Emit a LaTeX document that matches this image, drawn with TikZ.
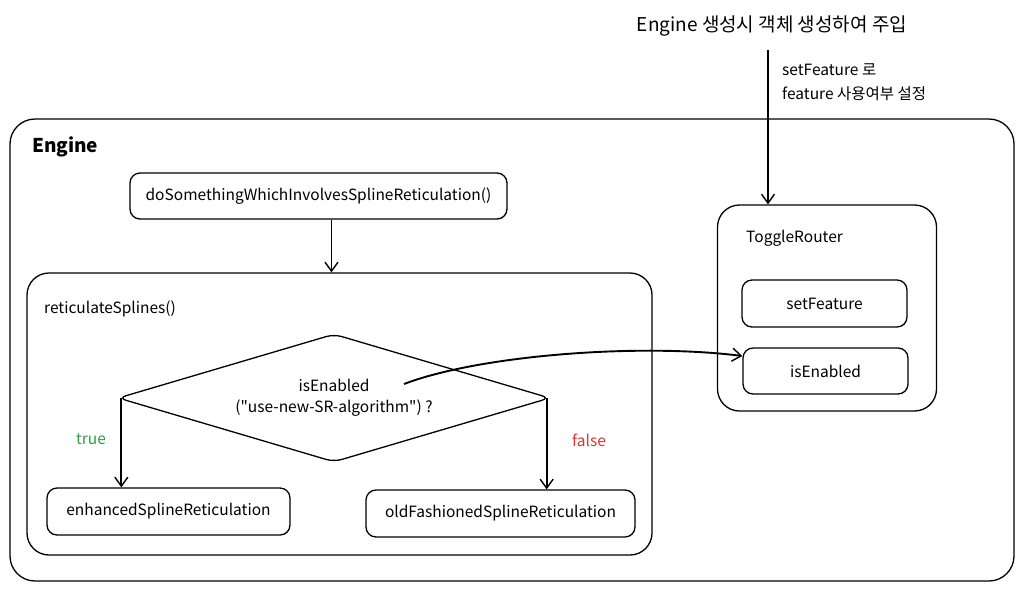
\documentclass[tikz,border=0pt]{standalone}
\usepackage{fontspec}
\setmainfont{Noto Sans CJK KR}[Ligatures=TeXOff]
\usetikzlibrary{arrows.meta,shapes.geometric}
\definecolor{truegreen}{HTML}{2F9E44}
\definecolor{falsered}{HTML}{E03131}
\begin{document}
\begin{tikzpicture}[x=1pt,y=-1pt,
  box/.style={draw, line width=1.3pt, rounded corners=10pt, inner sep=0pt},
  bigbox/.style={box, rounded corners=22pt},
  txt/.style={font=\fontsize{15.5}{21}\selectfont, inner sep=0pt},
  ttl/.style={font=\fontsize{19}{24}\selectfont\bfseries, inner sep=0pt},
  arr/.style={line width=1.9pt, -{Straight Barb[length=9pt,width=13pt,line width=1.4pt]}}]
\useasboundingbox (0,0) rectangle (1024,590);

% containers
\node[bigbox, rounded corners=25pt, minimum width=1004pt, minimum height=462pt] (engine) at (512,350) {};
\node[ttl, anchor=west] (enginelbl) at (32,147) {Engine};

\node[box, minimum width=377pt, minimum height=46pt, txt] (do) at (318.5,196) {doSomethingWhichInvolvesSplineReticulation()};

\node[bigbox, minimum width=625pt, minimum height=282pt] (retic) at (339.5,414) {};
\node[txt, anchor=west] (reticlbl) at (44,309) {reticulateSplines()};

\node[draw, diamond, aspect=3.375, line width=1.3pt, rounded corners=8pt, inner sep=0pt,
      minimum width=432pt, minimum height=128pt, txt, align=center] (dia) at (334,398)
      {isEnabled\\("use-new-SR-algorithm") ?};

\node[box, minimum width=243pt, minimum height=47pt, txt] (enh) at (168.5,511.5) {enhancedSplineReticulation};
\node[box, minimum width=269pt, minimum height=47pt, txt] (old) at (500.5,513.5) {oldFashionedSplineReticulation};

\node[txt, text=truegreen] (truelbl) at (91,439) {true};
\node[txt, text=falsered] (falselbl) at (589,440) {false};

% toggle router
\node[bigbox, minimum width=219pt, minimum height=206pt] (toggle) at (827,308) {};
\node[txt, anchor=west] (togglelbl) at (746,238) {ToggleRouter};
\node[box, minimum width=165pt, minimum height=47pt, txt] (setf) at (824.5,303.5) {setFeature};
\node[box, minimum width=165pt, minimum height=46pt, txt] (isen) at (825.5,371) {isEnabled};

% top annotation
\node[font=\fontsize{19}{24}\selectfont, inner sep=0pt] (toptxt) at (772,26) {Engine 생성시 객체 생성하여 주입};
\coordinate (topstart) at (768,50);
\node[txt, anchor=west] (note1) at (782,70) {setFeature 로};
\node[txt, anchor=west] (note2) at (782,94) {feature 사용여부 설정};

% connectors
\draw[arr] ([xshift=13pt]do.south) -- ([xshift=13pt]do.south |- retic.north);
\draw[arr] ([xshift=4pt]dia.west) -- ([xshift=4pt]dia.west |- enh.north);
\draw[arr] ([xshift=-4pt]dia.east) -- ([xshift=-4pt]dia.east |- old.north);
\draw[arr] (topstart) -- (topstart |- toggle.north);
\coordinate (src) at (404,384);
\draw[arr] (src) .. controls (480,355) and (640,343) .. ([yshift=15pt]isen.west);
\end{tikzpicture}
\end{document}
